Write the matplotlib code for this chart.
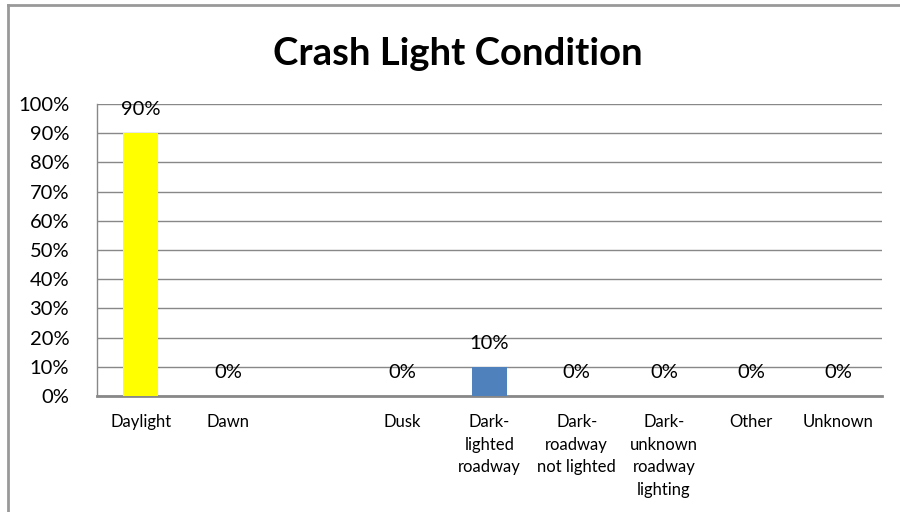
import numpy as np
import matplotlib.pyplot as plt
from matplotlib.lines import Line2D

# Crash light condition shares (blank slot between Dawn and Dusk has no data)
categories = ['Daylight', 'Dawn', '', 'Dusk', 'Dark-\nlighted\nroadway',
              'Dark-\nroadway\nnot lighted', 'Dark-\nunknown\nroadway\nlighting',
              'Other', 'Unknown']
shares = [0.90, 0.0, np.nan, 0.0, 0.10, 0.0, 0.0, 0.0, 0.0]
bar_colors = ['#FFFF00', '#4F81BD', '#4F81BD', '#4F81BD', '#4F81BD',
              '#4F81BD', '#4F81BD', '#4F81BD', '#4F81BD']
y_ticks = np.arange(0, 1.01, 0.1)

plt.rcParams['font.family'] = ['Lato', 'DejaVu Sans']

fig = plt.figure(figsize=(9, 5.12), dpi=100)
ax = fig.add_axes([97 / 900, 1 - 396 / 512, (882 - 97) / 900, (396 - 104) / 512])

x = np.arange(len(categories))
heights = [0 if np.isnan(v) else v for v in shares]
ax.bar(x, heights, width=0.4, color=bar_colors, zorder=3)

# value labels above every bar that has data
for xi, v in zip(x, shares):
    if np.isnan(v):
        continue
    ax.annotate(f'{v:.0%}', (xi, v), xytext=(0, 17), textcoords='offset points',
                ha='center', va='center', fontsize=14.5, color='black')

ax.set_xlim(-0.5, len(categories) - 0.5)
ax.set_ylim(0, 1)
ax.set_yticks(y_ticks)
ax.set_yticklabels([f'{t:.0%}' for t in y_ticks], fontsize=14.5)
ax.set_xticks(x)
ax.set_xticklabels(categories, fontsize=12, linespacing=1.5, va='top')
ax.tick_params(axis='both', length=0)
ax.tick_params(axis='x', pad=13)
ax.tick_params(axis='y', pad=20)

ax.grid(axis='y', color='#888888', linewidth=1.0, zorder=0)
ax.set_axisbelow(True)
for side in ['top', 'right']:
    ax.spines[side].set_visible(False)
ax.spines['left'].set_color('#888888')
ax.spines['left'].set_linewidth(1.0)
ax.spines['bottom'].set_color('#888888')
ax.spines['bottom'].set_linewidth(2.0)

fig.text(458 / 900, 1 - 54 / 512, 'Crash Light Condition', ha='center', va='center',
         fontsize=27.5, fontweight='bold')

# chart frame: only the top and left edges fall inside the image
fx, fy = 8 / 900, 1 - 5 / 512
fig.add_artist(Line2D([fx, 1.0], [fy, fy], transform=fig.transFigure,
                      color='#999999', linewidth=2.0))
fig.add_artist(Line2D([fx, fx], [0.0, fy], transform=fig.transFigure,
                      color='#999999', linewidth=2.0))

fig.savefig('out.png', dpi=100, facecolor='white')
